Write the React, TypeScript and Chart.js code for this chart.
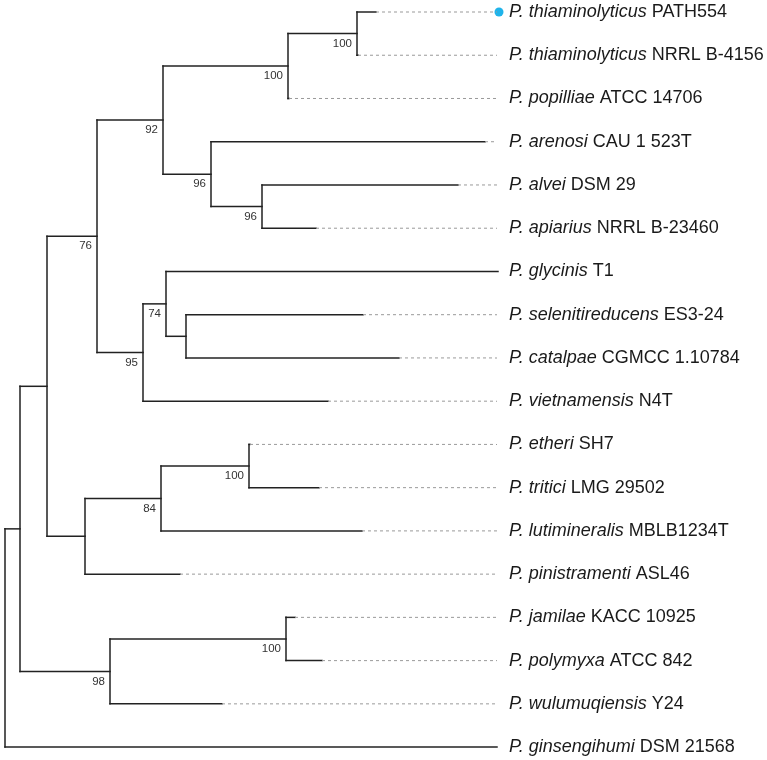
import React, { useEffect, useRef } from "react";
import { Chart, registerables } from "chart.js";

Chart.register(...registerables);

// ---- Leaves (top to bottom) ----
const leafSpecies = [
  "P. thiaminolyticus", "P. thiaminolyticus", "P. popilliae", "P. arenosi", "P. alvei",
  "P. apiarius", "P. glycinis", "P. selenitireducens", "P. catalpae", "P. vietnamensis",
  "P. etheri", "P. tritici", "P. lutimineralis", "P. pinistramenti", "P. jamilae",
  "P. polymyxa", "P. wulumuqiensis", "P. ginsengihumi",
];
const leafStrains = [
  "PATH554", "NRRL B-4156", "ATCC 14706", "CAU 1 523T", "DSM 29",
  "NRRL B-23460", "T1", "ES3-24", "CGMCC 1.10784", "N4T",
  "SH7", "LMG 29502", "MBLB1234T", "ASL46", "KACC 10925",
  "ATCC 842", "Y24", "DSM 21568",
];
// cumulative branch depth of each leaf tip
const leafDepth = [
  3.71, 3.53, 2.84, 4.8, 4.53, 3.11, 4.93, 3.58, 3.94, 3.23,
  2.45, 3.14, 3.57, 1.75, 2.9, 3.17, 2.17, 4.92,
];
const highlightedLeaf = 0;

// ---- Internal nodes ----
const nodeIds = ["root", "n1", "n2", "n3", "n4", "n5", "n6", "n7", "n8", "n9", "n10", "n11", "n12", "n13", "n14", "n15", "n16"];
const nodeDepth = [0, 0.15, 0.42, 0.92, 1.58, 2.83, 3.52, 2.06, 2.57, 1.38, 1.61, 1.81, 0.8, 1.56, 2.44, 1.05, 2.81];
const nodeChildren = [
  ["n1", "L17"],
  ["n2", "n15"],
  ["n3", "n12"],
  ["n4", "n9"],
  ["n5", "n7"],
  ["n6", "L2"],
  ["L0", "L1"],
  ["L3", "n8"],
  ["L4", "L5"],
  ["n10", "L9"],
  ["L6", "n11"],
  ["L7", "L8"],
  ["n13", "L13"],
  ["n14", "L12"],
  ["L10", "L11"],
  ["n16", "L16"],
  ["L14", "L15"],
];
const nodeSupport: (number | null)[] = [null, null, null, 76, 92, 100, 100, 96, 96, 95, 74, null, null, 84, 100, 98, 100];

const alignDepth = 4.92; // end of the dotted guide lines
const labelDepth = 5.04; // start of the leaf labels

const SOLID = "#222222";
const DASH = "#9a9a9a";
const DOT = "#1fb3ea";

type Pt = { x: number; y: number };

function buildTree() {
  const pos: Record<string, Pt> = {};
  leafSpecies.forEach((_, i) => {
    pos["L" + i] = { x: leafDepth[i], y: i };
  });
  const resolve = (id: string): Pt => {
    if (pos[id]) return pos[id];
    const k = nodeIds.indexOf(id);
    const ch = nodeChildren[k].map(resolve);
    const y = ch.reduce((s, p) => s + p.y, 0) / ch.length;
    pos[id] = { x: nodeDepth[k], y };
    return pos[id];
  };
  resolve("root");
  const solid: Pt[][] = [];
  const dashed: Pt[][] = [];
  nodeIds.forEach((id, k) => {
    const p = pos[id];
    const ch = nodeChildren[k].map((c) => pos[c]);
    const ys = ch.map((c) => c.y);
    solid.push([{ x: p.x, y: Math.min(...ys) }, { x: p.x, y: Math.max(...ys) }]);
    ch.forEach((c) => {
      if (c.x > p.x + 0.001) solid.push([{ x: p.x, y: c.y }, { x: c.x, y: c.y }]);
    });
  });
  leafSpecies.forEach((_, i) => {
    if (leafDepth[i] < alignDepth - 0.005) {
      dashed.push([{ x: leafDepth[i], y: i }, { x: alignDepth, y: i }]);
    }
  });
  return { pos, solid, dashed };
}

export default function App() {
  const ref = useRef<HTMLCanvasElement | null>(null);

  useEffect(() => {
    if (!ref.current) return;
    const { pos, solid, dashed } = buildTree();
    const datasets: any[] = [];
    dashed.forEach((seg) =>
      datasets.push({
        data: seg,
        borderColor: DASH,
        borderWidth: 1,
        borderDash: [3, 3],
        pointRadius: 0,
        showLine: true,
      })
    );
    solid.forEach((seg) =>
      datasets.push({
        data: seg,
        borderColor: SOLID,
        borderWidth: 1.5,
        pointRadius: 0,
        showLine: true,
        borderCapStyle: "square",
      })
    );
    datasets.push({
      data: [{ x: alignDepth + 0.02, y: highlightedLeaf }],
      pointRadius: 4.5,
      pointBackgroundColor: DOT,
      pointBorderWidth: 0,
      showLine: false,
    });

    const labelPlugin = {
      id: "treeLabels",
      afterDatasetsDraw(chart: any) {
        const ctx = chart.ctx;
        const xs = chart.scales.x;
        const ys = chart.scales.y;
        ctx.save();
        // leaf labels
        ctx.textBaseline = "middle";
        ctx.fillStyle = "#1a1a1a";
        leafSpecies.forEach((sp, i) => {
          const x = xs.getPixelForValue(labelDepth);
          const y = ys.getPixelForValue(i);
          ctx.font = "italic 18px 'Liberation Sans', Arial, sans-serif";
          ctx.fillText(sp, x, y);
          const w = ctx.measureText(sp + " ").width;
          ctx.font = "18px 'Liberation Sans', Arial, sans-serif";
          ctx.fillText(leafStrains[i], x + w, y);
        });
        // support values
        ctx.font = "11.5px 'Liberation Sans', Arial, sans-serif";
        ctx.fillStyle = "#333";
        ctx.textAlign = "right";
        nodeIds.forEach((id, k) => {
          const s = nodeSupport[k];
          if (s == null) return;
          const p = pos[id];
          ctx.fillText(String(s), xs.getPixelForValue(p.x) - 5, ys.getPixelForValue(p.y) + 10);
        });
        ctx.restore();
      },
    };

    const chart = new Chart(ref.current, {
      type: "scatter",
      data: { datasets },
      options: {
        animation: false,
        responsive: false,
        layout: { padding: 0, autoPadding: false },
        plugins: { legend: { display: false }, tooltip: { enabled: false } },
        scales: {
          x: { type: "linear", min: -0.05, max: 7.62, display: false },
          y: { type: "linear", reverse: true, min: -0.2775, max: 17.2985, display: false },
        },
      },
      plugins: [labelPlugin],
    });
    return () => chart.destroy();
  }, []);

  return (
    <canvas
      ref={ref}
      width={767}
      height={760}
      style={{ position: "absolute", left: 0, top: 0, width: 767, height: 760, background: "#fff" }}
    />
  );
}
